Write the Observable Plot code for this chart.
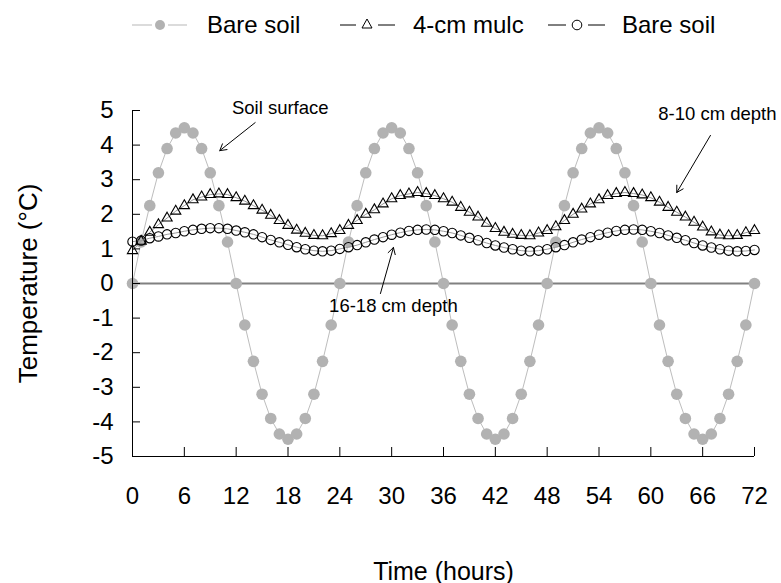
<!DOCTYPE html>
<html><head><meta charset="utf-8">
<script src="https://cdn.jsdelivr.net/npm/d3@7"></script>
<script src="https://cdn.jsdelivr.net/npm/@observablehq/plot@0.6"></script>
<style>
body{margin:0;background:#fff;font-family:"Liberation Sans",Arial,sans-serif;}
#legend{position:relative;width:781px;height:50px;}
#legend .lab{position:absolute;top:10px;font-size:24px;line-height:30px;color:#000;white-space:nowrap;}
#legend svg{position:absolute;left:0;top:0;}
</style></head><body>
<div id="legend"></div>
<div id="chart"></div>
<script>
const hours = [0,1,2,3,4,5,6,7,8,9,10,11,12,13,14,15,16,17,18,19,20,21,22,23,
  24,25,26,27,28,29,30,31,32,33,34,35,36,37,38,39,40,41,42,43,44,45,46,47,
  48,49,50,51,52,53,54,55,56,57,58,59,60,61,62,63,64,65,66,67,68,69,70,71,72];

const seriesNames = ["Bare soil", "4-cm mulc", "Bare soil"];

// Soil surface, bare soil (grey dots)
const bareSurface = [0,1.2,2.25,3.2,3.9,4.35,4.5,4.35,3.9,3.2,2.25,1.2,0,-1.2,-2.25,-3.2,-3.9,-4.35,-4.5,-4.35,-3.9,-3.2,-2.25,-1.2,
  0,1.2,2.25,3.2,3.9,4.35,4.5,4.35,3.9,3.2,2.25,1.2,0,-1.2,-2.25,-3.2,-3.9,-4.35,-4.5,-4.35,-3.9,-3.2,-2.25,-1.2,
  0,1.2,2.25,3.2,3.9,4.35,4.5,4.35,3.9,3.2,2.25,1.2,0,-1.2,-2.25,-3.2,-3.9,-4.35,-4.5,-4.35,-3.9,-3.2,-2.25,-1.2,0];

// 8-10 cm depth, 4-cm mulch (triangles)
const mulch = [0.95,1.22,1.48,1.7,1.89,2.09,2.25,2.42,2.5,2.57,2.59,2.57,2.48,2.38,2.25,2.12,1.97,1.82,1.68,1.54,1.45,1.39,1.38,1.44,
  1.53,1.68,1.82,2.0,2.13,2.3,2.45,2.54,2.59,2.63,2.6,2.54,2.45,2.35,2.2,2.06,1.92,1.74,1.59,1.48,1.42,1.39,1.38,1.46,
  1.53,1.64,1.82,2.0,2.15,2.3,2.42,2.54,2.6,2.63,2.6,2.56,2.48,2.35,2.2,2.06,1.92,1.77,1.63,1.49,1.4,1.38,1.39,1.47,1.53];

// 16-18 cm depth, bare soil (open circles)
const bareDeep = [1.21,1.24,1.31,1.36,1.42,1.46,1.51,1.55,1.58,1.6,1.6,1.58,1.53,1.48,1.42,1.34,1.26,1.19,1.12,1.05,0.99,0.95,0.93,0.95,
  1.0,1.05,1.11,1.19,1.27,1.34,1.41,1.47,1.52,1.55,1.56,1.55,1.51,1.46,1.39,1.32,1.25,1.17,1.1,1.04,0.99,0.95,0.93,0.95,
  0.99,1.05,1.11,1.19,1.27,1.34,1.41,1.47,1.52,1.55,1.56,1.55,1.51,1.46,1.39,1.32,1.25,1.17,1.1,1.04,0.99,0.95,0.93,0.94,0.97];

const xTicks = [0,6,12,18,24,30,36,42,48,54,60,66,72];
const yTicks = [-5,-4,-3,-2,-1,0,1,2,3,4,5];
const xTitle = "Time (hours)";
const yTitle = "Temperature (°C)";

const annotations = [
  {label:"Soil surface",   tx:17.1, ty:5.06,  x1:14.2, y1:4.65,  x2:10.1, y2:3.84},
  {label:"8-10 cm depth",  tx:67.7, ty:4.91,  x1:66.9, y1:4.28,  x2:63.0, y2:2.63},
  {label:"16-18 cm depth", tx:30.2, ty:-0.64, x1:28.7, y1:-0.29, x2:30.2, y2:1.04}
];

const sBare = hours.map((h,i)=>({h, v: bareSurface[i]}));
const sMulch = hours.map((h,i)=>({h, v: mulch[i]}));
const sDeep = hours.map((h,i)=>({h, v: bareDeep[i]}));

// Legend (HTML above the SVG)
const legend = document.getElementById("legend");
legend.innerHTML = `
<svg width="781" height="50">
  <line x1="132" x2="152" y1="25" y2="25" stroke="#c4c4c4" stroke-width="1.2"/>
  <line x1="168" x2="187" y1="25" y2="25" stroke="#c4c4c4" stroke-width="1.2"/>
  <circle cx="160" cy="25" r="5" fill="#b2b2b2"/>
  <line x1="340" x2="356" y1="25" y2="25" stroke="#000" stroke-width="1"/>
  <line x1="378" x2="395" y1="25" y2="25" stroke="#000" stroke-width="1"/>
  <path d="M367,19 L372,28 L362,28 Z" fill="none" stroke="#000" stroke-width="1"/>
  <line x1="548" x2="566" y1="25" y2="25" stroke="#000" stroke-width="1"/>
  <line x1="588" x2="605" y1="25" y2="25" stroke="#000" stroke-width="1"/>
  <circle cx="577" cy="25" r="4.8" fill="none" stroke="#000" stroke-width="1"/>
</svg>
<div class="lab" style="left:207px">${seriesNames[0]}</div>
<div class="lab" style="left:413px">${seriesNames[1]}</div>
<div class="lab" style="left:622px">${seriesNames[2]}</div>`;

const chart = Plot.plot({
  width: 781,
  height: 533,
  marginTop: 60,
  marginBottom: 127,
  marginLeft: 132,
  marginRight: 27,
  x: {domain: [0, 72]},
  y: {domain: [-5, 5]},
  style: {fontFamily: "'Liberation Sans', Arial, sans-serif", fontSize: "24px", color: "#000", background: "#fff"},
  marks: [
    Plot.ruleY([0], {stroke: "#808080", strokeWidth: 2}),
    Plot.line(sBare, {x: "h", y: "v", stroke: "#bdbdbd", strokeWidth: 1}),
    Plot.dot(sBare, {x: "h", y: "v", r: 5.8, fill: "#b2b2b2"}),
    Plot.line(sMulch, {x: "h", y: "v", stroke: "#9a9a9a", strokeWidth: 1}),
    Plot.dot(sMulch, {x: "h", y: "v", symbol: "triangle", r: 3.8, fill: "none", stroke: "#000", strokeWidth: 1.1}),
    Plot.line(sDeep, {x: "h", y: "v", stroke: "#9a9a9a", strokeWidth: 1}),
    Plot.dot(sDeep, {x: "h", y: "v", symbol: "circle", r: 4.7, fill: "none", stroke: "#000", strokeWidth: 1.1}),
    Plot.ruleX([0], {stroke: "#000", strokeWidth: 1}),
    Plot.ruleY([-5], {stroke: "#000", strokeWidth: 1}),
    Plot.axisX({ticks: xTicks, tickSize: 9, dy: -9, tickFormat: () => "", label: null}),
    Plot.axisX({ticks: xTicks, tickSize: 0, tickPadding: 30, tickFormat: d => String(d), label: null}),
    Plot.axisY({ticks: yTicks, tickSize: 8, dx: 8, tickFormat: () => "", label: null}),
    Plot.axisY({ticks: yTicks, tickSize: 0, tickPadding: 19, tickFormat: d => String(d), label: null}),
    Plot.text([xTitle], {frameAnchor: "bottom", dy: 115, lineAnchor: "middle", textAnchor: "middle", text: d => d, fontSize: 25, fill: "#000"}),
    Plot.text([yTitle], {frameAnchor: "left", dx: -104, rotate: -90, lineAnchor: "middle", textAnchor: "middle", text: d => d, fontSize: 26, fill: "#000"}),
    Plot.arrow(annotations, {x1: "x1", y1: "y1", x2: "x2", y2: "y2", stroke: "#000", strokeWidth: 1, headLength: 11}),
    Plot.text(annotations, {x: "tx", y: "ty", text: "label", fontSize: 18.5, fill: "#000"})
  ]
});
document.getElementById("chart").appendChild(chart);
</script>
</body></html>
